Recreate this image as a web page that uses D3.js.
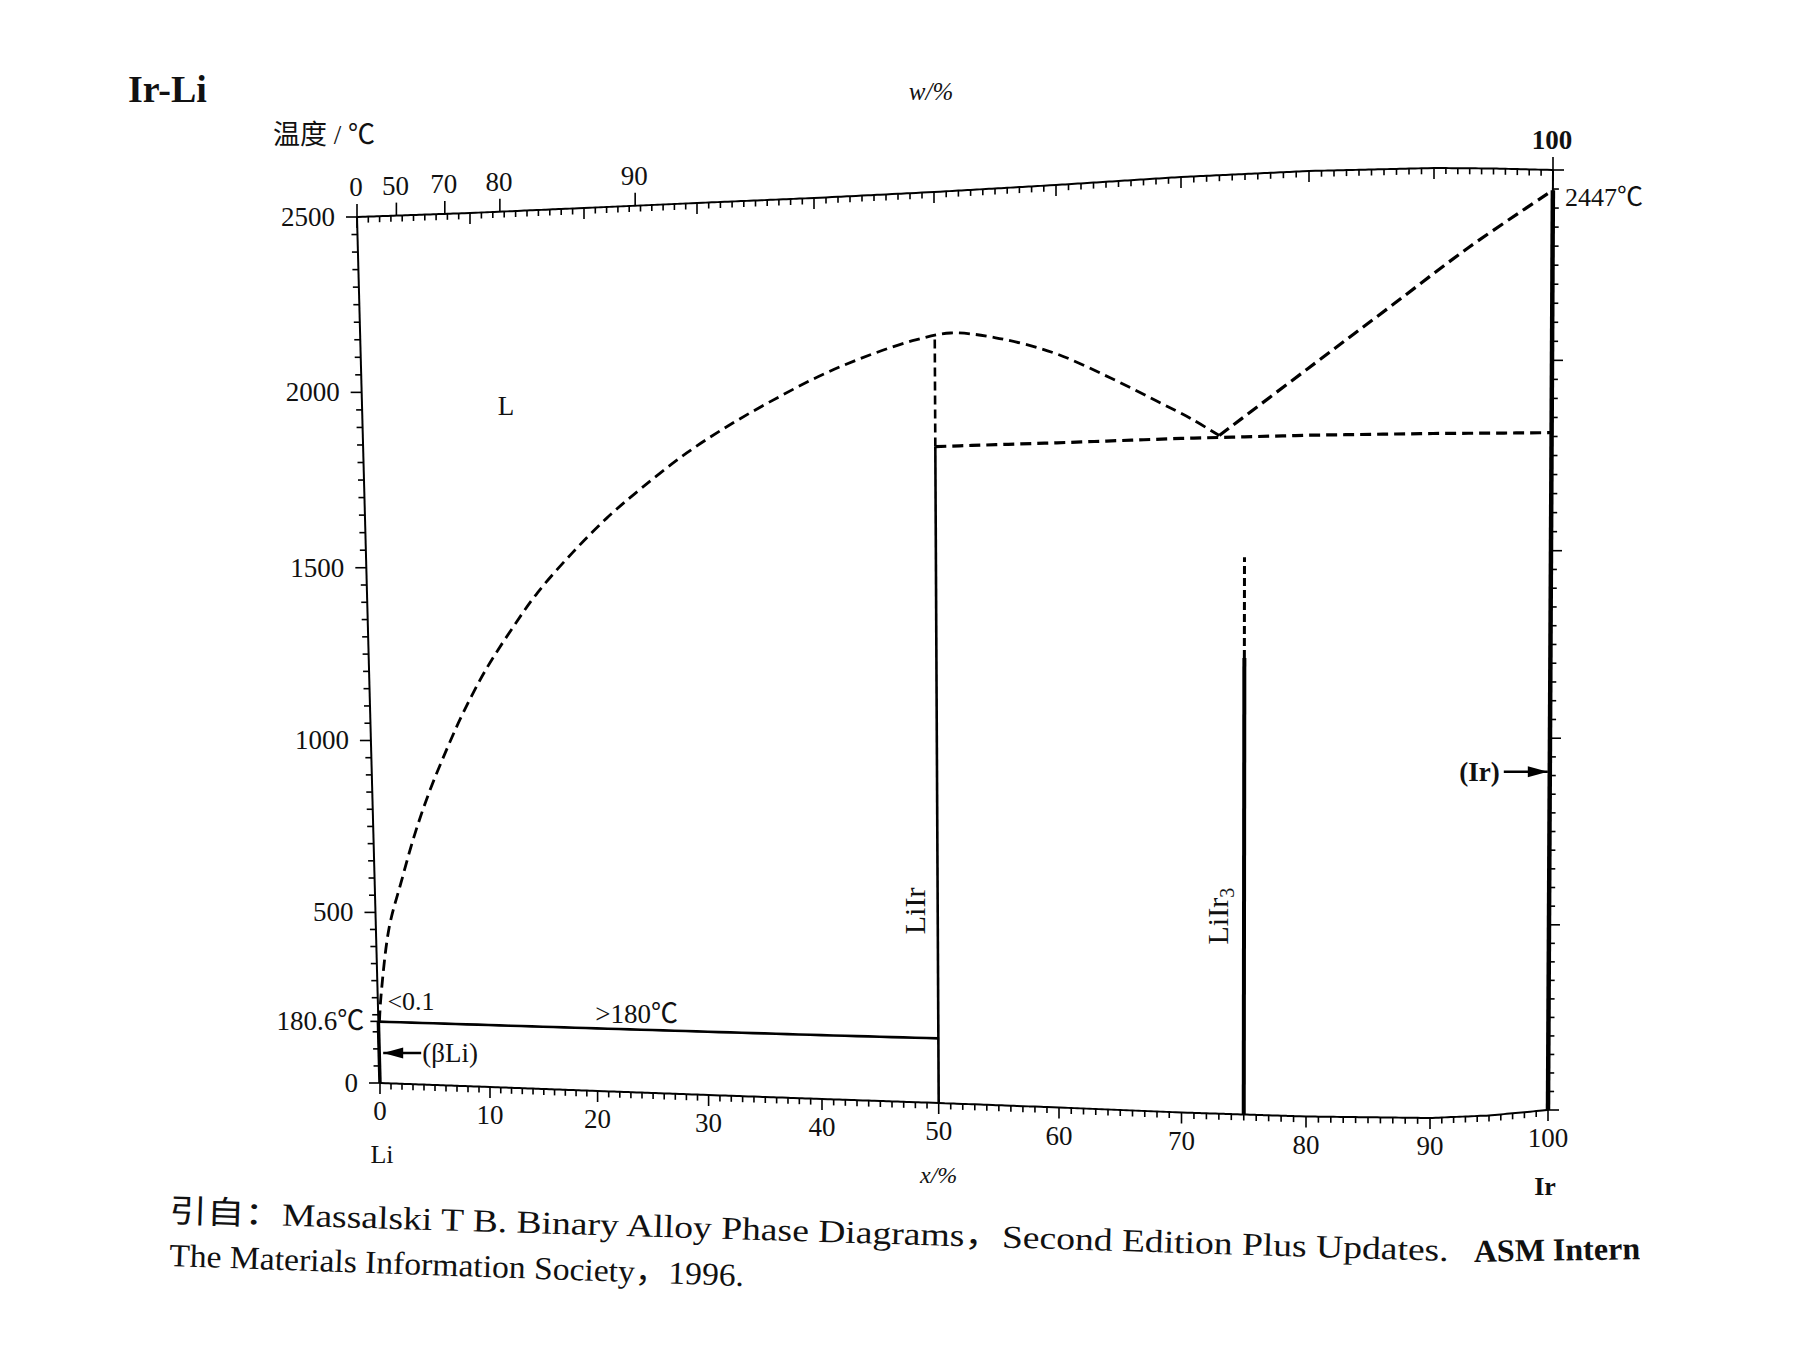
<!DOCTYPE html>
<html><head><meta charset="utf-8">
<script src="https://cdn.jsdelivr.net/npm/d3@7"></script>
<style>
body{margin:0;background:#fff}
text{font-family:"Liberation Serif","Times New Roman","Noto Sans CJK SC",serif;fill:#111}
</style>
</head><body>
<svg id="c" width="1795" height="1346"></svg>
<script>
// ================= DATA =================
const xTicks = [0,10,20,30,40,50,60,70,80,90,100];          // x / at.% Ir (bottom axis)
const tTicks = [0,500,1000,1500,2000,2500];                  // temperature / °C
const wtTicks = [0,50,70,80,90,100];                         // w / wt.% Ir (top axis)
const liMelt = 180.6, irMelt = 2447;
// liquidus from Li side over LiIr maximum to eutectic  [at.% Ir, °C]
const liquidusLeft = [[0.1,180.6],[0.3,255],[1.2,456],[2.4,590],[3.7,726],[5.1,849],[6.8,976],
  [8.4,1084],[10.5,1206],[12.9,1321],[15.3,1425],[18.5,1537],[21.6,1632],[24.7,1713],[28.8,1809],
  [32.8,1888],[36.8,1957],[40.7,2017],[44.6,2065],[48.4,2101],[51.3,2116],[55.0,2098],[59.7,2052],
  [64.3,1978],[68.0,1912],[70.8,1861],[73.0,1815]];
// liquidus from eutectic to Ir melting point
const liquidusRight = [[73.0,1815],[80.0,1985],[86.3,2136],[93.0,2295],[100,2447]];
const eutecticLine = [[50,1810],[100,1810]];
const liEutectic = [[0,180],[50,180]];
const liIrSolid = [[50,0],[50,1810]];
const liIrDashed = [[50,1810],[50,2113]];
const liIr3Solid = [[75,0],[75,1225]];
const liIr3Dashed = [[75,1225],[75,1494]];
const arrowT = {betaLi:88, Ir:910};

// ================= FRAME GEOMETRY (scan-distorted frame) =================
const frameXStops  = [0,10,20,30,40,50,60,70,80,90,95,100];
const frameBottomX = [380,490,597.6,708.6,822,938.7,1059,1181.5,1306,1430,1489,1548];
const frameBottomY = [1083,1087,1091,1095,1099,1103,1107.5,1112.5,1116.5,1118,1115.5,1110];
const frameTopX    = [357,470,584,697,814,934,1056,1181,1309,1434,1493.5,1553];
const frameTopY    = [217,213,208,203,198,192,185,177,171,168,168.5,170];
const vFrac        = [0,0.197,0.3955,0.595,0.7975,1];

const sBX = d3.scaleLinear().domain(frameXStops).range(frameBottomX);
const sBY = d3.scaleLinear().domain(frameXStops).range(frameBottomY);
const sTX = d3.scaleLinear().domain(frameXStops).range(frameTopX);
const sTY = d3.scaleLinear().domain(frameXStops).range(frameTopY);
const sV  = d3.scaleLinear().domain(tTicks).range(vFrac);
function P(x,t){ const v=sV(t); return [sBX(x)*(1-v)+sTX(x)*v, sBY(x)*(1-v)+sTY(x)*v]; }
// wt.% -> at.% conversion for top axis
const MLi=6.941, MIr=192.22;
function wtToAt(w){ if(w>=100) return 100; const a=w/MIr, b=(100-w)/MLi; return 100*a/(a+b); }

const svg = d3.select('#c');
const g = svg.append('g');
const lin = d3.line();
const crv = d3.line().curve(d3.curveCatmullRom.alpha(0.5));
function dense(seg, n){ const [a,b]=seg; return d3.range(n+1).map(i=>[a[0]+(b[0]-a[0])*i/n, a[1]+(b[1]-a[1])*i/n]); }
function path(d, w, dash){ const p=g.append('path').attr('d',d).attr('fill','none').attr('stroke','#000').attr('stroke-width',w).attr('stroke-linecap','butt');
  if(dash) p.attr('stroke-dasharray',dash); return p; }

// frame
const smooth = d3.line().curve(d3.curveBasis);
path(smooth(d3.range(0,100.01,0.5).map(x=>P(x,0))), 2);
path(smooth(d3.range(0,100.01,0.5).map(x=>P(x,2500))), 2);
path(lin([P(0,0),P(0,2500)]), 2);
path(lin([P(100,0),P(100,2500)]), 2);

// ticks
const tk = g.append('g').attr('stroke','#000').attr('stroke-width',1.6);
function tick(x1,y1,x2,y2){ tk.append('line').attr('x1',x1).attr('y1',y1).attr('x2',x2).attr('y2',y2); }
d3.range(0,2501,50).forEach(t=>{
  const L = t%500===0 ? 11 : 6;
  const a=P(0,t); tick(a[0],a[1],a[0]-L,a[1]);
  const b=P(100,t); tick(b[0],b[1],b[0]+L,b[1]);
});
{ const a=P(0,liMelt); tick(a[0],a[1],a[0]-8,a[1]); }
d3.range(0,101,1).forEach(x=>{
  const L = x%10===0 ? 11 : 6;
  const a=P(x,0); tick(a[0],a[1],a[0],a[1]+L);
  const b=P(x,2500); tick(b[0],b[1],b[0],b[1]+L);
});
wtTicks.forEach(w=>{ const b=P(wtToAt(w),2500); tick(b[0],b[1],b[0],b[1]-13); });

// tick labels
const txt = (x,y,s,opt={})=>{ const t=g.append('text').attr('x',x).attr('y',y).text(s)
  .attr('font-size',opt.size||27).attr('text-anchor',opt.anchor||'start');
  if(opt.weight) t.attr('font-weight',opt.weight); if(opt.style) t.attr('font-style',opt.style); return t; };
tTicks.forEach(t=>{ const a=P(0,t); txt(a[0]-22,a[1]+9,String(t),{anchor:'end'}); });
{ const a=P(0,liMelt); txt(a[0]-14,a[1]+9,'180.6℃',{anchor:'end'}); }
xTicks.forEach(x=>{ const a=P(x,0); txt(a[0],a[1]+37,String(x),{anchor:'middle'}); });
wtTicks.forEach(w=>{ const b=P(wtToAt(w),2500); txt(b[0]-1,b[1]-21,String(w),{anchor:'middle',weight:w===100?'bold':null}); });

// phase boundaries
path(crv(liquidusLeft.map(d=>P(d[0],d[1]))), 2.8, '11,6');
path(crv(liquidusRight.map(d=>P(d[0],d[1]))), 3.2, '12,6');
path(lin(dense(eutecticLine,50).map(d=>P(d[0],d[1]))), 3.2, '11,6');
path(lin(dense(liEutectic,50).map(d=>P(d[0],d[1]))), 2.6);
path(lin(liIrSolid.map(d=>P(d[0],d[1]))), 2.6);
path(lin(liIrDashed.map(d=>P(d[0],d[1]))), 2.6, '9,5');
path(lin(liIr3Solid.map(d=>P(d[0],d[1]))), 4);
path(lin(liIr3Dashed.map(d=>P(d[0],d[1]))), 3, '8,4');
path(lin([P(100,0),P(100,irMelt)]), 4.5);
path(lin([P(0,0),P(0,liMelt)]), 3.5);

// arrows
function arrow(x1,y1,x2,y2){ // head at (x2,y2)
  g.append('line').attr('x1',x1).attr('y1',y1).attr('x2',x2).attr('y2',y2).attr('stroke','#000').attr('stroke-width',2.6);
  const dx=x2-x1, dy=y2-y1, len=Math.hypot(dx,dy), ux=dx/len, uy=dy/len, hl=20, hw=5.5;
  const bx=x2-ux*hl, by=y2-uy*hl;
  g.append('path').attr('d',`M${x2},${y2}L${bx-uy*hw},${by+ux*hw}L${bx+uy*hw},${by-ux*hw}Z`).attr('fill','#000');
}
{ const a=P(0,arrowT.betaLi); arrow(a[0]+42,a[1],a[0]+4,a[1]); txt(a[0]+43,a[1]+9,'(βLi)',{size:27}); }
{ const a=P(100,arrowT.Ir); arrow(a[0]-46,a[1],a[0]-2,a[1]); txt(a[0]-50,a[1]+9,'(Ir)',{size:27,anchor:'end',weight:'bold'}); }

// in-plot labels
{ const a=P(12.8,1960); txt(a[0],a[1]+12,'L',{size:27,anchor:'middle'}); }
{ const a=P(0.6,240); txt(a[0]+3,a[1]+9,'<0.1',{size:26}); }
{ const a=P(23.6,180); txt(a[0],a[1]-7,'>180℃',{size:27,anchor:'middle'}); }
{ const a=P(50,535), x0=a[0]-23; g.append('text').attr('x',x0).attr('y',a[1]).attr('font-size',30)
    .attr('text-anchor','middle').attr('transform',`rotate(-90,${x0},${a[1]})`).attr('dy','0.35em').text('LiIr'); }
{ const a=P(75,535), x0=a[0]-27; const t=g.append('text').attr('x',x0).attr('y',a[1]).attr('font-size',30)
    .attr('text-anchor','middle').attr('transform',`rotate(-90,${x0},${a[1]})`).attr('dy','0.35em');
  t.append('tspan').text('LiIr'); t.append('tspan').attr('font-size',20).attr('dy','0.3em').text('3'); }
{ const a=P(100,irMelt); txt(a[0]+12,a[1]+16,'2447℃',{size:26}); }

// axis titles
txt(128,102,'Ir-Li',{size:38,weight:'bold'});
txt(273,144,'温度 / ℃',{size:27});
txt(931,100,'w/%',{size:25,anchor:'middle',style:'italic'});
{ const a=P(0,0); txt(a[0]+2,a[1]+80,'Li',{size:26,anchor:'middle'}); }
{ const a=P(100,0); txt(a[0]-3,a[1]+85,'Ir',{size:26,anchor:'middle',weight:'bold'}); }
{ const a=P(50,0); txt(a[0],a[1]+80,'x/%',{size:24,anchor:'middle',style:'italic'}); }

// citation
svg.append('clipPath').attr('id','clipR').append('rect').attr('x',0).attr('y',0).attr('width',1640).attr('height',1346);
const cit = svg.append('g').attr('clip-path','url(#clipR)');
cit.append('text').attr('x',169).attr('y',1222).attr('font-size',32)
  .attr('transform','rotate(1.75,169,1222)').attr('textLength',1280).attr('lengthAdjust','spacingAndGlyphs')
  .text('引自：Massalski T B.  Binary Alloy Phase Diagrams，Second Edition Plus Updates.');
cit.append('text').attr('x',1474).attr('y',1262).attr('font-size',32).attr('font-weight','bold')
  .attr('transform','rotate(-1,1474,1262)').text('ASM International,');
cit.append('text').attr('x',169).attr('y',1266).attr('font-size',32)
  .attr('transform','rotate(2.0,169,1266)').attr('textLength',575).attr('lengthAdjust','spacingAndGlyphs')
  .text('The Materials Information Society，1996.');
</script>
</body></html>
